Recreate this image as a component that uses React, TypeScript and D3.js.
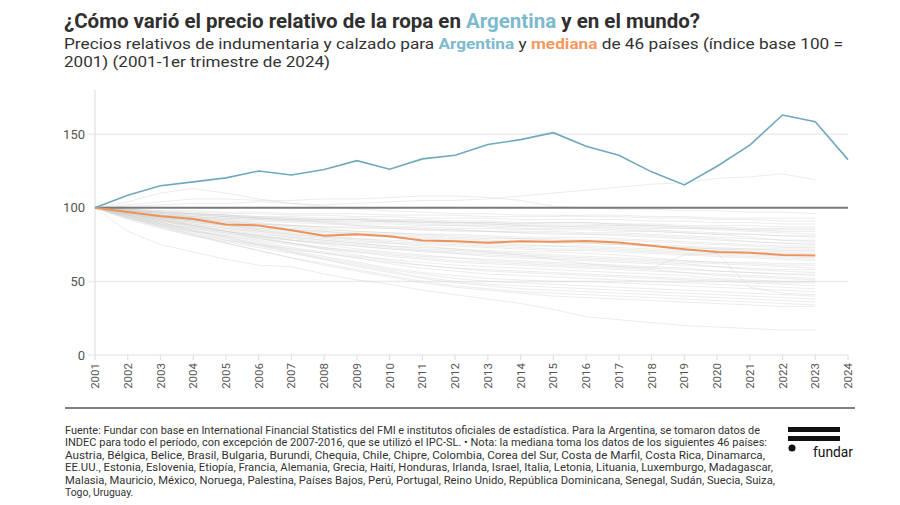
import React from "react";
import * as d3 from "d3";

const years = d3.range(2001, 2025);
const yTicks = [0, 50, 100, 150];

const argentina = [100, 108.5, 115, 117.6, 120.3, 125, 122.3, 126, 132, 126.2, 133.2, 135.7, 143, 146.3, 151, 141.8, 135.7, 124.4, 115.5, 128.2, 142.5, 163, 158.5, 132.7];

const median = [100, 97.2, 94.3, 92.3, 88.7, 88, 84.8, 81, 82, 80.7, 77.8, 77.3, 76.2, 77.3, 76.9, 77.5, 76.4, 74.2, 71.9, 69.9, 69.5, 68, 67.6];

const countries: number[][] = [
  [100, 101, 102, 103, 103, 104, 103, 102, 103, 104, 105, 105, 106, 108, 110, 112, 114, 116, 117, 120, 121, 123, 119],
  [100, 102, 104, 106, 106, 105, 105, 106, 106, 107, 108, 108, 107, 105, 101, 100, 99, 99, 98, 98, 97, 97, 96],
  [100, 104, 110, 113, 110, 106, 103, 101, 99, 98, 97, 96, 96, 95, 95, 94, 94, 93, 93, 92, 92, 91, 91],
  [100, 99, 98, 98, 97, 97, 96, 96, 96, 95, 95, 95, 94, 94, 94, 95, 95, 94, 94, 93, 93, 93, 93],
  [100, 98, 97, 96, 95, 94, 94, 93, 93, 92, 92, 91, 91, 90, 90, 90, 89, 89, 88, 88, 88, 87, 87],
  [100, 99, 97, 96, 95, 93, 92, 92, 92, 91, 90, 90, 90, 89, 90, 90, 89, 88, 87, 86, 85, 85, 85],
  [100, 98, 96, 94, 93, 92, 91, 90, 89, 89, 88, 88, 88, 87, 87, 88, 88, 87, 86, 86, 85, 84, 84],
  [100, 97, 95, 94, 93, 92, 91, 91, 90, 91, 90, 89, 89, 88, 87, 87, 86, 85, 84, 83, 82, 81, 80],
  [100, 98, 96, 95, 94, 93, 92, 91, 91, 90, 89, 88, 87, 86, 85, 85, 84, 84, 83, 82, 82, 81, 81],
  [100, 99, 97, 96, 94, 93, 92, 90, 88, 87, 87, 86, 86, 85, 86, 86, 85, 84, 83, 82, 80, 78, 78],
  [100, 98, 95, 93, 91, 89, 88, 87, 86, 86, 85, 85, 84, 84, 84, 83, 83, 82, 81, 80, 79, 78, 77],
  [100, 97, 94, 92, 90, 89, 88, 87, 87, 86, 85, 84, 84, 83, 83, 82, 82, 81, 80, 79, 77, 76, 76],
  [100, 98, 95, 93, 91, 89, 87, 85, 84, 83, 82, 82, 81, 80, 80, 80, 79, 78, 77, 76, 75, 74, 74],
  [100, 96, 93, 90, 88, 86, 85, 84, 83, 82, 81, 80, 79, 79, 79, 78, 78, 77, 76, 75, 74, 73, 73],
  [100, 97, 94, 91, 89, 87, 85, 83, 82, 81, 80, 79, 78, 77, 77, 76, 75, 74, 73, 72, 72, 71, 71],
  [100, 98, 95, 92, 89, 86, 84, 82, 81, 80, 79, 78, 77, 77, 76, 76, 75, 74, 73, 72, 71, 70, 70],
  [100, 96, 92, 89, 86, 84, 82, 80, 79, 78, 77, 76, 75, 74, 74, 73, 72, 71, 70, 69, 68, 67, 66],
  [100, 97, 93, 90, 87, 84, 81, 79, 77, 76, 75, 74, 73, 72, 71, 71, 70, 69, 68, 67, 66, 65, 64],
  [100, 95, 91, 88, 85, 82, 80, 78, 76, 74, 73, 72, 71, 70, 70, 69, 68, 66, 64, 63, 62, 61, 61],
  [100, 96, 92, 88, 84, 81, 78, 76, 74, 72, 71, 70, 69, 68, 67, 66, 65, 64, 63, 62, 61, 60, 59],
  [100, 94, 89, 86, 83, 80, 78, 76, 74, 72, 70, 69, 68, 67, 66, 65, 64, 63, 62, 60, 58, 57, 56],
  [100, 95, 90, 86, 82, 79, 76, 73, 71, 69, 67, 66, 65, 64, 63, 62, 61, 60, 59, 57, 56, 55, 54],
  [100, 96, 91, 87, 83, 79, 76, 73, 70, 68, 66, 64, 63, 62, 61, 60, 59, 58, 56, 55, 54, 53, 52],
  [100, 93, 88, 84, 81, 78, 75, 72, 70, 67, 65, 63, 62, 61, 60, 59, 58, 57, 56, 54, 53, 52, 51],
  [100, 95, 90, 85, 81, 77, 73, 70, 67, 65, 63, 61, 60, 59, 58, 57, 56, 55, 54, 52, 51, 50, 50],
  [100, 94, 89, 84, 80, 76, 72, 69, 66, 63, 61, 59, 58, 57, 56, 55, 54, 53, 52, 51, 50, 49, 49],
  [100, 96, 92, 88, 84, 80, 76, 72, 68, 64, 61, 59, 57, 56, 55, 54, 53, 52, 51, 50, 49, 48, 47],
  [100, 93, 87, 82, 78, 75, 72, 69, 66, 62, 59, 57, 55, 54, 53, 52, 51, 50, 49, 48, 47, 46, 45],
  [100, 95, 89, 84, 79, 75, 71, 67, 63, 59, 56, 54, 52, 51, 50, 50, 49, 48, 47, 46, 45, 44, 43],
  [100, 94, 88, 83, 78, 74, 70, 66, 62, 58, 55, 52, 50, 49, 48, 47, 46, 45, 44, 43, 42, 41, 40],
  [100, 92, 86, 81, 77, 73, 69, 65, 61, 57, 53, 50, 48, 47, 46, 45, 44, 43, 42, 41, 40, 39, 38],
  [100, 95, 90, 85, 80, 75, 70, 65, 60, 56, 52, 49, 47, 45, 44, 43, 42, 41, 40, 39, 38, 37, 36],
  [100, 93, 87, 81, 76, 71, 66, 62, 58, 54, 50, 47, 45, 43, 42, 41, 40, 39, 38, 37, 36, 35, 34],
  [100, 94, 88, 82, 76, 71, 66, 61, 57, 53, 49, 46, 44, 42, 40, 39, 38, 37, 36, 35, 34, 33, 33],
  [100, 84, 75, 70, 65, 61, 60, 55, 51, 48, 44, 41, 38, 35, 31, 26, 24, 22, 20, 19, 18, 17, 17],
  [100, 97, 94, 91, 88, 85, 82, 80, 78, 76, 74, 72, 70, 68, 65, 62, 60, 59, 68, 69, 46, 42, 41],
  [100, 99, 98, 97, 96, 96, 95, 95, 94, 94, 93, 93, 93, 92, 92, 92, 92, 91, 91, 90, 90, 89, 89],
  [100, 98, 97, 95, 94, 93, 93, 92, 92, 91, 91, 90, 89, 88, 88, 87, 87, 86, 86, 85, 84, 83, 82],
  [100, 97, 95, 93, 92, 91, 90, 89, 88, 87, 86, 85, 84, 83, 82, 82, 81, 80, 79, 78, 77, 76, 75],
  [100, 99, 96, 94, 92, 90, 88, 86, 84, 83, 82, 81, 80, 79, 78, 77, 76, 75, 74, 73, 72, 72, 72],
  [100, 96, 93, 91, 88, 85, 83, 81, 79, 77, 76, 75, 74, 73, 72, 72, 71, 70, 69, 68, 67, 66, 65],
  [100, 97, 93, 89, 86, 83, 80, 78, 76, 74, 72, 71, 70, 69, 68, 67, 66, 65, 64, 63, 63, 62, 62],
  [100, 95, 91, 87, 84, 81, 79, 77, 75, 73, 71, 69, 67, 66, 65, 64, 63, 62, 61, 60, 59, 58, 58],
  [100, 98, 95, 93, 90, 88, 86, 84, 82, 80, 78, 77, 76, 75, 74, 74, 73, 72, 71, 71, 70, 69, 69],
  [100, 99, 97, 96, 95, 94, 93, 92, 92, 91, 91, 90, 90, 89, 89, 89, 88, 88, 87, 87, 86, 86, 86],
  [100, 96, 92, 88, 84, 81, 78, 75, 72, 70, 68, 66, 64, 63, 62, 61, 60, 59, 58, 57, 56, 55, 55],
];

const footnote = [
  "Fuente: Fundar con base en International Financial Statistics del FMI e institutos oficiales de estadística. Para la Argentina, se tomaron datos de",
  "INDEC para todo el período, con excepción de 2007-2016, que se utilizó el IPC-SL. • Nota: la mediana toma los datos de los siguientes 46 países:",
  "Austria, Bélgica, Belice, Brasil, Bulgaria, Burundi, Chequia, Chile, Chipre, Colombia, Corea del Sur, Costa de Marfil, Costa Rica, Dinamarca,",
  "EE.UU., Estonia, Eslovenia, Etiopía, Francia, Alemania, Grecia, Haití, Honduras, Irlanda, Israel, Italia, Letonia, Lituania, Luxemburgo, Madagascar,",
  "Malasia, Mauricio, México, Noruega, Palestina, Países Bajos, Perú, Portugal, Reino Unido, República Dominicana, Senegal, Sudán, Suecia, Suiza,",
  "Togo, Uruguay.",
];
const footnoteWidths = [695, 702, 700, 708, 710, 0];

const BLUE = "#6fa9bd";
const BLUE_TEXT = "#7dbacd";
const ORANGE = "#ec925a";
const ORANGE_TEXT = "#f39a62";
const FONT = "Roboto, 'Liberation Sans', Arial, sans-serif";

export default function App() {
  const x = d3.scaleLinear().domain([2001, 2024]).range([95, 848]);
  const y = d3.scaleLinear().domain([0, 180]).range([355, 90]);
  const line = d3
    .line<number>()
    .x((_, i) => x(2001 + i))
    .y((d) => y(d));

  return (
    <svg width={900} height={505} style={{ position: "absolute", left: 0, top: 0, background: "#fff" }} fontFamily={FONT}>
      <rect x={0} y={0} width={900} height={505} fill="#fff" />
      <text x={64} y={28} fontSize={19.5} fontWeight={700} fill="#2f2f2f" textLength={636} lengthAdjust="spacingAndGlyphs">
        ¿Cómo varió el precio relativo de la ropa en <tspan fill={BLUE_TEXT}>Argentina</tspan> y en el mundo?
      </text>
      <text x={64} y={49} fontSize={15.5} fill="#333" textLength={779} lengthAdjust="spacingAndGlyphs">
        Precios relativos de indumentaria y calzado para <tspan fill={BLUE_TEXT} fontWeight={700}>Argentina</tspan> y{" "}
        <tspan fill={ORANGE_TEXT} fontWeight={700}>mediana</tspan> de 46 países (índice base 100 =
      </text>
      <text x={64} y={67} fontSize={15.5} fill="#333" textLength={266} lengthAdjust="spacingAndGlyphs">
        2001) (2001-1er trimestre de 2024)
      </text>

      {/* grid */}
      {yTicks.filter((t) => t !== 100).map((t) => (
        <line key={t} x1={88} x2={848} y1={y(t)} y2={y(t)} stroke="#ebebeb" strokeWidth={1.5} />
      ))}
      <line x1={95} x2={95} y1={90} y2={355} stroke="#e6e6e6" strokeWidth={1.5} />
      {years.map((yr) => (
        <line key={yr} x1={x(yr)} x2={x(yr)} y1={355} y2={360} stroke="#e0e0e0" strokeWidth={1.2} />
      ))}
      {yTicks.map((t) => (
        <text key={t} x={85} y={y(t)} dy="0.35em" textAnchor="end" fontSize={13} fill="#555">
          {t}
        </text>
      ))}
      {years.map((yr) => (
        <text
          key={yr}
          transform={`translate(${x(yr)},363) rotate(-90)`}
          textAnchor="end"
          dy="0.35em"
          fontSize={11.5}
          fill="#555"
        >
          {yr}
        </text>
      ))}

      {/* countries */}
      <g fill="none" stroke="#cfcfcf" strokeOpacity={0.4} strokeWidth={1}>
        {countries.map((c, i) => (
          <path key={i} d={line(c) || ""} />
        ))}
      </g>
      <line x1={95} x2={848} y1={y(100)} y2={y(100)} stroke="#7a7a7a" strokeWidth={2} />
      <path d={line(median) || ""} fill="none" stroke={ORANGE} strokeWidth={2} />
      <path d={line(argentina) || ""} fill="none" stroke={BLUE} strokeWidth={1.6} />

      {/* footer */}
      <line x1={65} x2={855} y1={408} y2={408} stroke="#555" strokeWidth={1.5} />
      {footnote.map((t, i) => (
        <text
          key={i}
          x={65}
          y={434 + i * 12.4}
          fontSize={10.4}
          fill="#333"
          textLength={footnoteWidths[i] || undefined}
          lengthAdjust={footnoteWidths[i] ? "spacingAndGlyphs" : undefined}
        >
          {t}
        </text>
      ))}
      <rect x={788} y={427} width={52} height={5} fill="#111" />
      <rect x={788} y={436} width={52} height={5} fill="#111" />
      <circle cx={792} cy={448} r={3.5} fill="#111" />
      <text x={813} y={457} fontSize={15} fontWeight={400} fill="#111" textLength={40} lengthAdjust="spacingAndGlyphs">
        fundar
      </text>
    </svg>
  );
}
